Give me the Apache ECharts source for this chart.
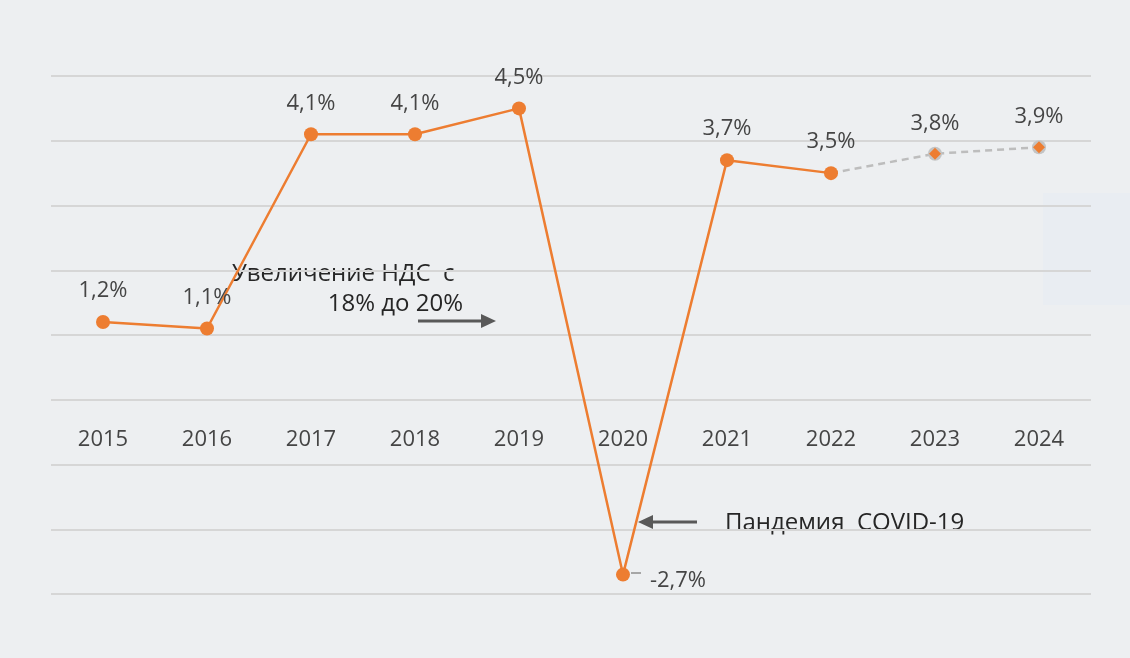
<!DOCTYPE html>
<html><head><meta charset="utf-8">
<script src="https://cdn.jsdelivr.net/npm/echarts@6/dist/echarts.min.js"></script>
<style>html,body{margin:0;padding:0;background:#edeff1;}#c{width:1130px;height:658px;}</style>
</head><body><div id="c"></div>
<script>
const years = ['2015','2016','2017','2018','2019','2020','2021','2022','2023','2024'];
const actual = [1.2, 1.1, 4.1, 4.1, 4.5, -2.7, 3.7, 3.5, null, null];
const forecast = [null, null, null, null, null, null, null, 3.5, 3.8, 3.9];
const yTicks = {min: -3, max: 5, step: 1};
const noteVat = ['Увеличение НДС  с', '18% до 20%'];
const noteCovid = 'Пандемия  COVID-19';

const FONT = '"Open Sans", "Noto Sans", sans-serif';
const fmt = v => String(v).replace('.', ',') + '%';
const W = 1130, H = 658;
const grid = {left: 51, right: 39, top: 76, bottom: 64};
const gridH = H - grid.top - grid.bottom;
// place the category axis on the zero line of the value axis
const zeroOffset = -gridH * (0 - yTicks.min) / (yTicks.max - yTicks.min);

const chart = echarts.init(document.getElementById('c'));
const lbl = {show: true, position: 'top', distance: 13, fontSize: 22, color: '#454545', fontFamily: FONT,
  formatter: p => fmt(p.value)};

chart.setOption({
  backgroundColor: '#edeff1',
  animation: false,
  grid: grid,
  xAxis: {type: 'category', data: years, boundaryGap: true, position: 'bottom', offset: zeroOffset,
    axisLine: {show: false, onZero: false}, axisTick: {show: false},
    axisLabel: {margin: 29, fontSize: 22, color: '#454545', fontFamily: FONT}},
  yAxis: {type: 'value', min: yTicks.min, max: yTicks.max, interval: yTicks.step,
    axisLabel: {show: false}, axisLine: {show: false}, axisTick: {show: false},
    splitLine: {lineStyle: {color: '#d6d6d6', width: 2}}},
  series: [
    {type: 'line', data: forecast, z: 2, symbol: 'none',
      lineStyle: {color: '#bdbdbd', width: 2.5, type: [7, 5]}},
    {type: 'line', data: forecast.map((v, i) => i > 7 ? v : null), z: 3, symbol: 'circle', symbolSize: 14,
      itemStyle: {color: '#c4c4c4'}, lineStyle: {width: 0}, label: Object.assign({}, lbl, {distance: 12})},
    {type: 'line', data: forecast.map((v, i) => i > 7 ? v : null), z: 4, symbol: 'diamond', symbolSize: 12,
      itemStyle: {color: '#ed7d31'}, lineStyle: {width: 0}, label: {show: false}},
    {type: 'line', data: actual, z: 5, symbol: 'circle', symbolSize: 14,
      lineStyle: {color: '#ed7d31', width: 2.5}, itemStyle: {color: '#ed7d31'},
      label: Object.assign({}, lbl, {position: 'top'}),
      labelLayout: p => p.dataIndex === 5 ? {dx: 55, dy: 37} : {}}
  ],
  graphic: [
    {type: 'rect', shape: {x: 1043, y: 193, width: 87, height: 112}, style: {fill: '#e9edf2'}, z: -10},
    {type: 'text', left: 232, top: 262, style: {text: noteVat[0], fontSize: 24, fill: '#262626', fontFamily: FONT}},
    {type: 'text', right: W - 463, top: 292, style: {text: noteVat[1], fontSize: 24, fill: '#262626', fontFamily: FONT, align: 'right'}},
    {type: 'line', shape: {x1: 418, y1: 321, x2: 484, y2: 321}, style: {stroke: '#595959', lineWidth: 3}},
    {type: 'polygon', shape: {points: [[481, 314], [496, 321], [481, 328]]}, style: {fill: '#595959'}},
    {type: 'line', shape: {x1: 697, y1: 522, x2: 650, y2: 522}, style: {stroke: '#595959', lineWidth: 3}},
    {type: 'polygon', shape: {points: [[653, 515], [638, 522], [653, 529]]}, style: {fill: '#595959'}},
    {type: 'text', left: 725, top: 511, style: {text: noteCovid, fontSize: 24, fill: '#262626', fontFamily: FONT}},
    {type: 'line', shape: {x1: 631, y1: 573, x2: 641, y2: 573}, style: {stroke: '#a6a6a6', lineWidth: 2}}
  ]
});
</script></body></html>
